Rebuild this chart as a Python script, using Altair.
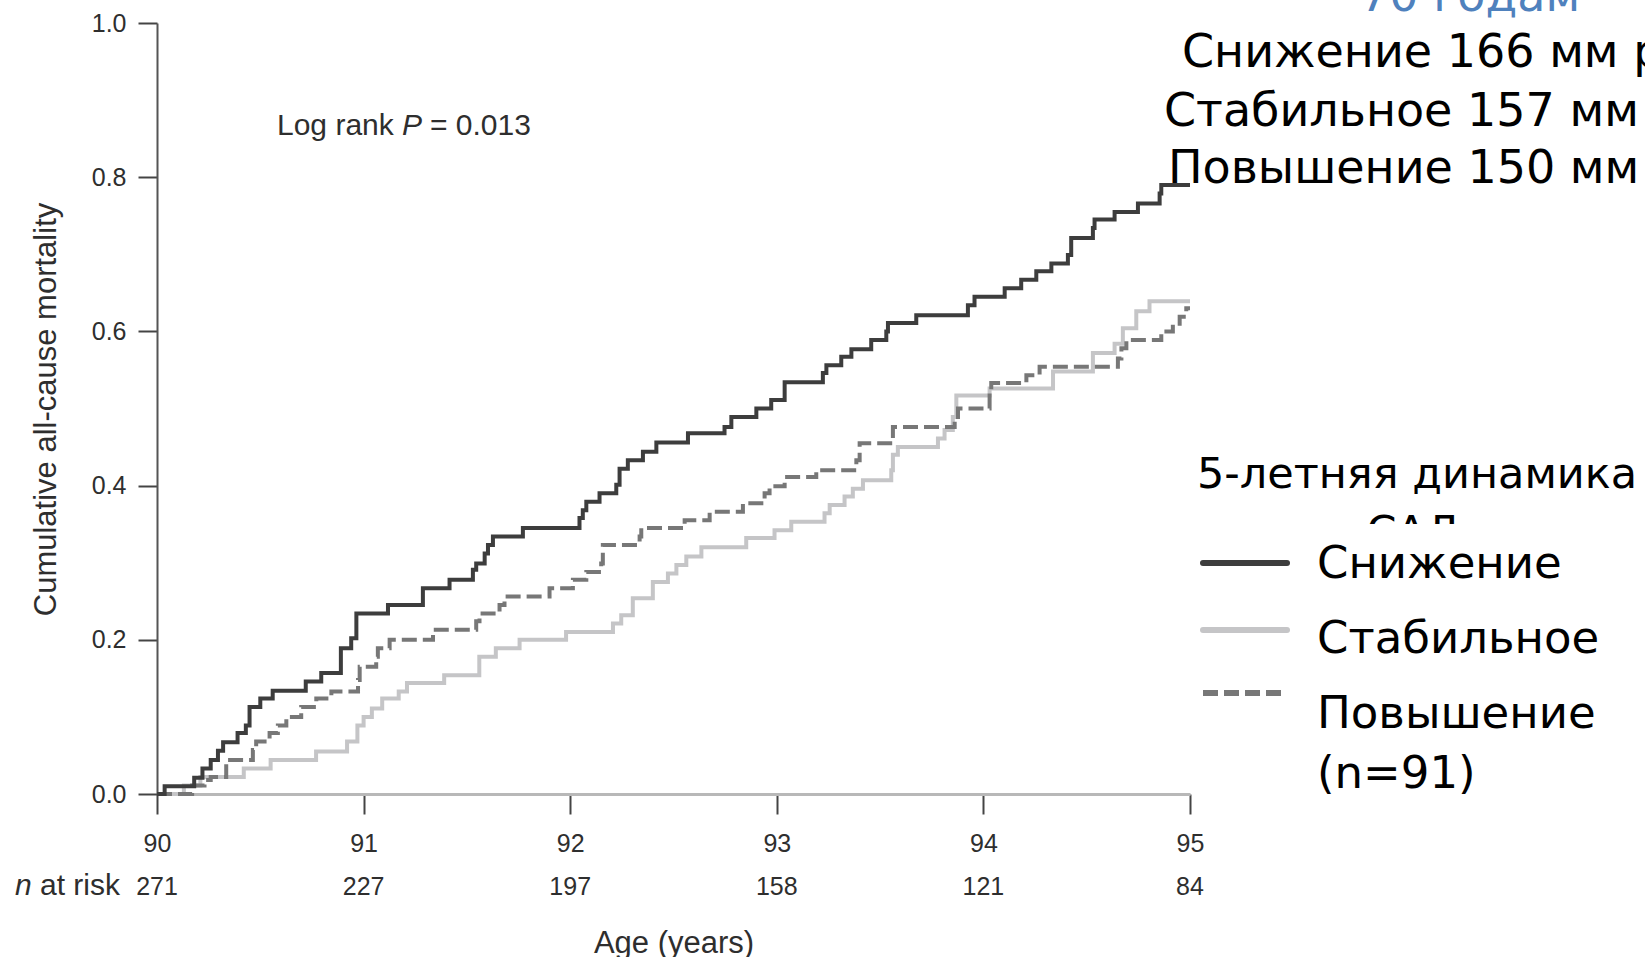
import altair as alt
import pandas as pd

# ---- Kaplan-Meier style cumulative mortality, ages 90-95 ----
decline_age = [90, 90.037, 90.18, 90.22, 90.26, 90.295, 90.32, 90.39, 90.43, 90.448,
               90.50, 90.56, 90.72, 90.795, 90.89, 90.94, 90.965, 91.118, 91.287, 91.416,
               91.529, 91.545, 91.586, 91.602, 91.626, 91.771, 92.045, 92.061, 92.078, 92.142,
               92.223, 92.239, 92.279, 92.352, 92.417, 92.570, 92.747, 92.780, 92.901, 92.973,
               93.038, 93.223, 93.240, 93.312, 93.361, 93.457, 93.530, 93.538, 93.675, 93.925,
               93.957, 94.103, 94.183, 94.256, 94.329, 94.409, 94.425, 94.530, 94.538, 94.635,
               94.748, 94.853, 94.861, 95.0]
decline_mort = [0, 0.010, 0.021, 0.033, 0.044, 0.056, 0.067, 0.079, 0.089, 0.113,
                0.124, 0.134, 0.146, 0.157, 0.189, 0.202, 0.234, 0.245, 0.267, 0.278,
                0.291, 0.299, 0.312, 0.323, 0.334, 0.345, 0.358, 0.368, 0.379, 0.390,
                0.401, 0.422, 0.433, 0.444, 0.456, 0.468, 0.476, 0.489, 0.500, 0.511,
                0.534, 0.546, 0.556, 0.567, 0.577, 0.589, 0.600, 0.611, 0.621, 0.634,
                0.645, 0.656, 0.667, 0.678, 0.688, 0.699, 0.721, 0.734, 0.745, 0.755,
                0.766, 0.779, 0.790, 0.790]

stable_age = [90, 90.13, 90.21, 90.42, 90.55, 90.77, 90.92, 90.97, 91.0, 91.04,
              91.09, 91.17, 91.21, 91.39, 91.56, 91.64, 91.755, 91.98, 92.207, 92.247,
              92.303, 92.40, 92.473, 92.514, 92.562, 92.635, 92.852, 92.989, 93.07, 93.231,
              93.256, 93.328, 93.368, 93.417, 93.554, 93.562, 93.586, 93.78, 93.812, 93.852,
              93.869, 94.03, 94.337, 94.53, 94.635, 94.675, 94.74, 94.804, 95.0]
stable_mort = [0, 0.011, 0.022, 0.033, 0.044, 0.055, 0.068, 0.089, 0.100, 0.111,
               0.124, 0.133, 0.144, 0.154, 0.178, 0.189, 0.200, 0.210, 0.221, 0.232,
               0.254, 0.275, 0.286, 0.297, 0.308, 0.320, 0.332, 0.342, 0.353, 0.364,
               0.375, 0.386, 0.396, 0.407, 0.420, 0.440, 0.450, 0.461, 0.472, 0.489,
               0.517, 0.526, 0.548, 0.572, 0.584, 0.604, 0.626, 0.639, 0.639]

rise_age = [90, 90.17, 90.23, 90.26, 90.335, 90.464, 90.48, 90.545, 90.585, 90.626,
            90.698, 90.771, 90.844, 90.973, 90.981, 91.061, 91.069, 91.126, 91.336, 91.545,
            91.561, 91.658, 91.682, 91.90, 92.013, 92.078, 92.15, 92.158, 92.336, 92.344,
            92.554, 92.675, 92.836, 92.941, 92.965, 93.038, 93.191, 93.385, 93.401, 93.562,
            93.861, 93.877, 94.03, 94.038, 94.208, 94.272, 94.651, 94.668, 94.692, 94.861,
            94.917, 94.95, 94.982, 95.0]
rise_mort = [0, 0.011, 0.018, 0.022, 0.044, 0.057, 0.068, 0.079, 0.089, 0.100,
             0.113, 0.124, 0.133, 0.148, 0.165, 0.178, 0.189, 0.200, 0.213, 0.224,
             0.234, 0.245, 0.256, 0.267, 0.278, 0.288, 0.299, 0.323, 0.334, 0.345,
             0.355, 0.366, 0.377, 0.390, 0.399, 0.411, 0.420, 0.433, 0.455, 0.476,
             0.489, 0.500, 0.520, 0.533, 0.543, 0.554, 0.565, 0.578, 0.589, 0.600,
             0.610, 0.619, 0.630, 0.630]

# number at risk under each year tick
risk_ages = [90, 91, 92, 93, 94, 95]
risk_n = [271, 227, 197, 158, 121, 84]

# legend entries: name, colour, dash
series_names = ["Снижение", "Стабильное", "Повышение\n(n=91)"]
series_colors = ["#3d3d3d", "#c5c5c7", "#777777"]
series_dashes = [None, None, [15, 6]]

legend_title = "5-летняя динамика"
legend_title_2 = "САД"
header_lines = ["Снижение 166 мм рт. ст.", "Стабильное 157 мм рт. ст.", "Повышение 150 мм рт. ст."]
header_top = "70 годам"

# ---- layout (page pixels) ----
PAGE_W, PAGE_H = 1645, 957
PAD_L, PAD_T = 157, 23
W, H = 1033, 771
SANS = "Liberation Sans"
RU = "DejaVu Sans"
INK = "#2e2e2e"

x_scale = alt.Scale(domain=[90, 95], nice=False, zero=False)
y_scale = alt.Scale(domain=[0, 1], nice=False, zero=True)

x_axis = alt.Axis(values=risk_ages, format="d", grid=False,
                  tickSize=20, tickWidth=2, tickColor="#444444",
                  domainColor="#b8b8b8", domainWidth=3,
                  labelFont=SANS, labelFontSize=25, labelColor=INK,
                  labelBaseline="alphabetic", labelPadding=37, labelFlush=False,
                  title="Age (years)", titleFont=SANS, titleFontSize=31,
                  titleFontWeight="normal", titleColor=INK,
                  titleX=W / 2, titleY=158, titleAlign="center",
                  titleBaseline="alphabetic")
y_axis = alt.Axis(values=[0, 0.2, 0.4, 0.6, 0.8, 1.0], format=".1f", grid=False,
                  tickSize=19, tickWidth=2, tickColor="#444444",
                  domainColor="#555555", domainWidth=2,
                  labelFont=SANS, labelFontSize=25, labelColor=INK,
                  labelPadding=12, labelFlush=False,
                  title="Cumulative all-cause mortality", titleFont=SANS,
                  titleFontSize=31, titleFontWeight="normal", titleColor=INK,
                  titleAngle=270, titleX=-111, titleY=386, titleAlign="center",
                  titleBaseline="middle")


def curve(ages, morts, color, dash=None):
    df = pd.DataFrame({"age": ages, "mort": morts})
    kw = dict(interpolate="step-after", color=color, strokeWidth=4, strokeCap="butt")
    if dash:
        kw["strokeDash"] = dash
    return alt.Chart(df).mark_line(**kw).encode(
        x=alt.X("age:Q", scale=x_scale, axis=x_axis),
        y=alt.Y("mort:Q", scale=y_scale, axis=y_axis),
    )


def note(text, x, y, size, font=SANS, color=INK, align="left", italic=False,
         line_height=None):
    kw = dict(align=align, baseline="alphabetic", font=font, fontSize=size,
              color=color, fontStyle="italic" if italic else "normal")
    if line_height:
        kw["lineBreak"] = "\n"
        kw["lineHeight"] = line_height
    return alt.Chart(pd.DataFrame({"t": [text]})).mark_text(**kw).encode(
        text="t:N", x=alt.value(x - PAD_L), y=alt.value(y - PAD_T))


layers = [
    curve(stable_age, stable_mort, series_colors[1]),
    curve(rise_age, rise_mort, series_colors[2], series_dashes[2]),
    curve(decline_age, decline_mort, series_colors[0]),
]

# number-at-risk row, placed on the shared age scale
risk_df = pd.DataFrame({"age": risk_ages, "n": [str(v) for v in risk_n]})
layers.append(
    alt.Chart(risk_df).mark_text(align="center", baseline="alphabetic", font=SANS,
                                 fontSize=25, color=INK).encode(
        x=alt.X("age:Q", scale=x_scale, axis=x_axis),
        y=alt.value(895 - PAD_T),
        text="n:N")
)
layers.append(note("n", 15, 895, 30, italic=True))
layers.append(note("at risk", 40, 895, 30))

# log-rank annotation
layers.append(note("Log rank", 277, 135, 30))
layers.append(note("P", 402, 135, 30, italic=True))
layers.append(note("= 0.013", 430, 135, 30))

# header block at the top right
layers.append(note(header_top, 1360, 11, 46, font=RU, color="#4f81bd"))
layers.append(note(header_lines[0], 1182, 67, 46, font=RU, color="#000000"))
layers.append(note(header_lines[1], 1164, 126, 46, font=RU, color="#000000"))
layers.append(note(header_lines[2], 1168, 183, 46, font=RU, color="#000000"))

# legend: title (second line partly hidden under the entries)
layers.append(note(legend_title, 1417, 488, 43, font=RU, color="#000000", align="center"))
layers.append(note(legend_title_2, 1413, 546, 43, font=RU, color="#000000", align="center"))
layers.append(
    alt.Chart(pd.DataFrame({"k": [0]})).mark_rect(color="white").encode(
        x=alt.value(1290 - PAD_L), x2=alt.value(1560 - PAD_L),
        y=alt.value(524 - PAD_T), y2=alt.value(559 - PAD_T))
)
legend_rows_y = [563, 630, 693]
legend_text_y = [578, 653, 728]
for name, color, dash, ly, ty in zip(series_names, series_colors, series_dashes,
                                     legend_rows_y, legend_text_y):
    kw = dict(color=color, strokeWidth=6, strokeCap="butt" if dash else "round")
    if dash:
        kw["strokeDash"] = dash
    layers.append(
        alt.Chart(pd.DataFrame({"k": [0]})).mark_rule(**kw).encode(
            x=alt.value(1203 - PAD_L), x2=alt.value(1287 - PAD_L),
            y=alt.value(ly - PAD_T))
    )
    layers.append(note(name, 1317, ty, 45, font=RU, color="#000000", line_height=60))

chart = alt.layer(*layers).properties(
    width=W, height=H,
    autosize=alt.AutoSizeParams(type="none"),
    padding={"left": PAD_L, "top": PAD_T,
             "right": PAGE_W - PAD_L - W, "bottom": PAGE_H - PAD_T - H},
    background="white",
).configure_view(stroke=None)

chart.save("out.html", embed_options={"renderer": "svg", "actions": False})
